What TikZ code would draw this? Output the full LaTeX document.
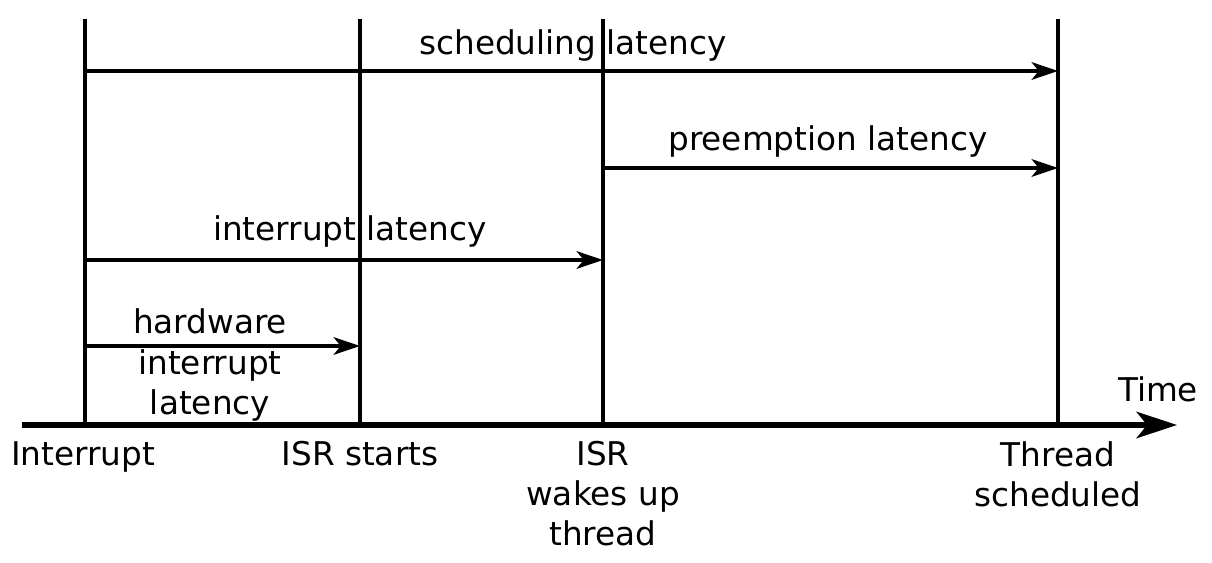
\documentclass[tikz,border=0pt]{standalone}
\usepackage{fontspec}
\setmainfont{DejaVu Sans}
\usetikzlibrary{arrows.meta}

\tikzset{
  mark line/.style={line width=2pt},
  lat arrow/.style={line width=2pt, -{Stealth[length=15pt, width=10pt, inset=4pt]}},
  time axis/.style={line width=3.2pt, -{Stealth[length=23pt, width=15pt, inset=6pt]}},
  lbl/.style={font=\fontsize{18.6}{22.8}\selectfont, align=center, inner sep=0pt}
}

\begin{document}
\begin{tikzpicture}[line cap=butt, line join=miter, x=0.02cm, y=-0.02cm]
                \useasboundingbox (0,0) rectangle (1212,563);
                % event marks on the time axis
                \coordinate (i0) at (85, 425);
                \coordinate (i1) at (360, 425);
                \coordinate (i2) at (603, 425);
                \coordinate (i3) at (1058, 425);
                \coordinate (t0) at (22, 425);
                \coordinate (t1) at (1177, 425);
                % heights of the latency arrows
                \coordinate (top) at (0, 19);
                \coordinate (sched) at (0, 71);
                \coordinate (preempt) at (0, 168);
                \coordinate (irq) at (0, 260);
                \coordinate (hw) at (0, 346);
                \foreach \mark in {i0, i1, i2, i3}
                    \draw[mark line] (\mark) -- (\mark |- top);
                \draw[time axis] (t0) -- (t1);
                \draw[lat arrow] (i0 |- sched) -- (i3 |- sched);
                \draw[lat arrow] (i2 |- preempt) -- (i3 |- preempt);
                \draw[lat arrow] (i0 |- irq) -- (i2 |- irq);
                \draw[lat arrow] (i0 |- hw) -- (i1 |- hw);
                % labels
                \node[lbl] (schedlbl) at (573, 45) {scheduling latency};
                \node[lbl] (preemptlbl) at (828, 141) {preemption latency};
                \node[lbl] (irqlbl) at (350, 231) {interrupt latency};
                \node[lbl] (hwlbl) at (210, 365) {hardware\\interrupt\\latency};
                \node[lbl] (timelbl) at (1158, 389) {Time};
                \node[lbl, anchor=north] (ilbl0) at (83, 441) {Interrupt};
                \node[lbl, anchor=north] (ilbl1) at (360, 441) {ISR starts};
                \node[lbl, anchor=north] (ilbl2) at (603, 441) {ISR\\wakes up\\thread};
                \node[lbl, anchor=north] (ilbl3) at (1058, 441) {Thread\\scheduled};
            \end{tikzpicture}
\end{document}
